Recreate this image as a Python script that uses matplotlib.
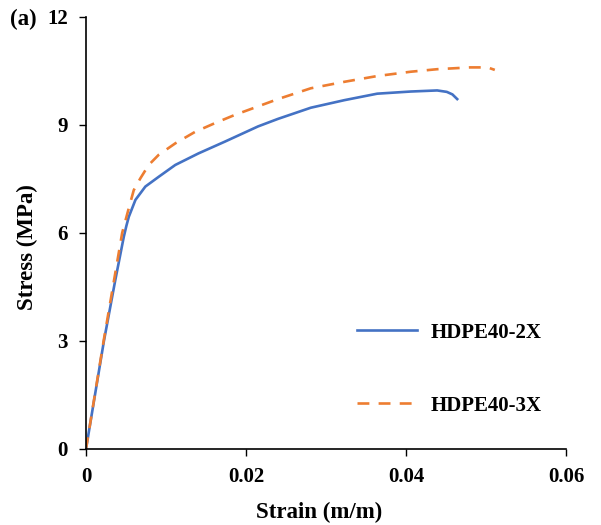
import matplotlib

matplotlib.use("Agg")
import matplotlib.pyplot as plt

# HDPE40-2X (solid blue)
strain_2x = [0, 0.00224, 0.00366, 0.00473, 0.00505, 0.00535, 0.00618, 0.00742, 0.00908,
             0.01116, 0.01405, 0.01738, 0.0215, 0.0240, 0.0281, 0.0323, 0.0364,
             0.0406, 0.0439, 0.0451, 0.0458, 0.0464]
stress_2x = [0, 3.0, 4.69, 5.9, 6.2, 6.45, 6.92, 7.29, 7.56,
             7.89, 8.21, 8.54, 8.96, 9.17, 9.48, 9.69, 9.87,
             9.93, 9.96, 9.92, 9.85, 9.72]

# HDPE40-3X (dashed orange)
strain_3x = [0, 0.00224, 0.00452, 0.00473, 0.00535, 0.00597, 0.0068, 0.00784, 0.00908,
             0.01116, 0.01364, 0.0161, 0.0186, 0.0240, 0.0281, 0.0323, 0.0364,
             0.0406, 0.0439, 0.0480, 0.0502, 0.0511]
stress_3x = [0, 3.05, 6.0, 6.18, 6.69, 7.19, 7.52, 7.89, 8.17,
             8.49, 8.81, 9.05, 9.28, 9.72, 10.02, 10.20, 10.36,
             10.48, 10.55, 10.60, 10.60, 10.53]

x_ticks = [0, 0.02, 0.04, 0.06]
x_tick_labels = ["0", "0.02", "0.04", "0.06"]
y_ticks = [0, 3, 6, 9, 12]

plt.rcParams["font.family"] = ["Liberation Serif", "DejaVu Serif"]
plt.rcParams["font.weight"] = "bold"

fig = plt.figure(figsize=(6.01, 5.25), dpi=100)
ax = fig.add_axes([86 / 601, 1 - 449 / 525, 480 / 601, 432 / 525])

ax.plot(strain_2x, stress_2x, color="#4472C4", lw=1.9, label="HDPE40-2X")
ax.plot(strain_3x, stress_3x, color="#ED7D31", lw=1.9, dashes=(4.5, 3.5), label="HDPE40-3X")

ax.set_xlim(0, 0.06)
ax.set_ylim(0, 12)
ax.set_xticks(x_ticks, x_tick_labels)
ax.set_yticks(y_ticks)
ax.tick_params(direction="out", length=5, width=1, labelsize=15, pad=8)
for lab in ax.get_xticklabels() + ax.get_yticklabels():
    lab.set_fontweight("bold")

for side in ["top", "right"]:
    ax.spines[side].set_visible(False)
for side in ["left", "bottom"]:
    ax.spines[side].set_linewidth(1.2)

ax.set_xlabel("Strain (m/m)", fontsize=16.5, fontweight="bold")
ax.set_ylabel("Stress (MPa)", fontsize=16.5, fontweight="bold")
ax.xaxis.set_label_coords(0.486, -0.122)
ax.yaxis.set_label_coords(-0.10, 0.468)

ax.legend(loc="center left", bbox_to_anchor=(0.5646, 0.185), frameon=False,
          handlelength=2.9, handletextpad=0.65, labelspacing=2.55,
          borderpad=0, borderaxespad=0, prop={"weight": "bold", "size": 15})

fig.text(10 / 601, 1 - 9 / 525, "(a)", fontsize=16.5, fontweight="bold", va="top", ha="left")

fig.savefig("out.png", dpi=100)
plt.close(fig)
